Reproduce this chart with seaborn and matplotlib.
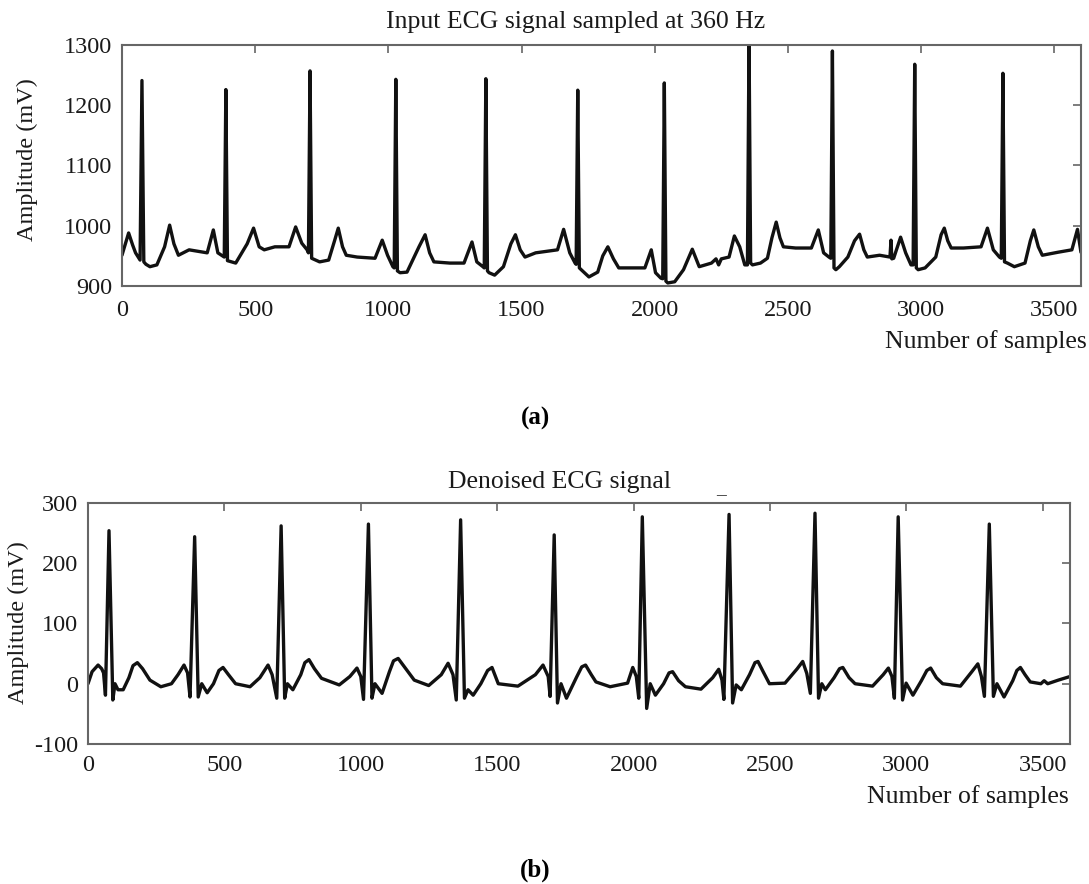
import numpy as np
import pandas as pd
import seaborn as sns
import matplotlib
matplotlib.use("Agg")
import matplotlib.pyplot as plt

# vertices (sample index, amplitude in mV)
raw_samples = [
    0, 25, 40, 51, 68, 75, 82, 90, 105, 131, 160, 179, 195, 212, 252, 320, 343, 360, 384, 390,
    396, 427, 470, 494, 515, 534, 574, 627, 652, 675, 695, 700, 706, 712, 742, 776, 798, 812, 828, 842,
    883, 950, 977, 997, 1017, 1022, 1028, 1034, 1044, 1070, 1115, 1138, 1155, 1171, 1231, 1284, 1314, 1332, 1355, 1360,
    1366, 1372, 1378, 1399, 1432, 1460, 1477, 1495, 1513, 1553, 1635, 1658, 1681, 1701, 1705, 1711, 1717, 1724, 1753, 1786,
    1805, 1824, 1845, 1865, 1911, 1963, 1987, 2003, 2023, 2030, 2036, 2042, 2049, 2075, 2108, 2141, 2167, 2213, 2230, 2240,
    2250, 2279, 2299, 2319, 2338, 2348, 2354, 2360, 2367, 2397, 2423, 2440, 2456, 2470, 2483, 2529, 2588, 2614, 2634, 2654,
    2661, 2667, 2673, 2680, 2693, 2725, 2750, 2769, 2785, 2798, 2844, 2883, 2887, 2890, 2897, 2923, 2942, 2962, 2970, 2976,
    2982, 2989, 3015, 3055, 3075, 3087, 3100, 3113, 3159, 3225, 3249, 3271, 3294, 3301, 3307, 3313, 3324, 3350, 3390, 3410,
    3423, 3440, 3455, 3514, 3566, 3587, 3600,
]
raw_amp = [
    951, 988, 968, 955, 943, 1241, 940, 936, 932, 935, 965, 1001, 970, 951, 960, 955, 993, 955, 948, 1226,
    942, 938, 970, 996, 965, 960, 965, 965, 998, 971, 960, 955, 1257, 946, 940, 943, 975, 996, 965, 951,
    948, 946, 976, 951, 932, 930, 1243, 925, 922, 923, 965, 985, 955, 940, 938, 938, 973, 940, 932, 930,
    1244, 925, 922, 918, 932, 970, 985, 960, 948, 955, 960, 994, 955, 938, 936, 1225, 930, 927, 915, 923,
    950, 965, 945, 930, 930, 930, 960, 922, 913, 912, 1237, 908, 905, 907, 927, 961, 932, 938, 945, 935,
    945, 948, 983, 965, 935, 935, 1310, 938, 935, 938, 946, 980, 1006, 980, 965, 963, 963, 993, 955, 948,
    946, 1290, 930, 927, 932, 948, 975, 986, 960, 948, 951, 948, 976, 945, 946, 981, 955, 935, 935, 1268,
    930, 927, 930, 948, 985, 996, 975, 963, 963, 965, 996, 960, 948, 946, 1253, 940, 938, 932, 938, 975,
    993, 965, 951, 956, 960, 994, 956,
]

# vertices
den_samples = [
    0, 15, 37, 50, 57, 64, 77, 91, 99, 110, 129, 150, 165, 181, 200, 227, 267, 306, 330, 352,
    365, 374, 391, 404, 417, 437, 460, 480, 495, 515, 541, 594, 630, 660, 675, 692, 708, 721, 731, 751,
    780, 795, 810, 830, 856, 921, 960, 986, 1000, 1010, 1028, 1041, 1052, 1078, 1105, 1120, 1137, 1160, 1196, 1249,
    1295, 1320, 1338, 1350, 1366, 1380, 1393, 1412, 1440, 1465, 1481, 1504, 1576, 1640, 1668, 1687, 1694, 1709, 1721, 1734,
    1754, 1790, 1810, 1824, 1845, 1862, 1914, 1978, 1997, 2010, 2019, 2032, 2048, 2061, 2080, 2110, 2130, 2143, 2165, 2190,
    2247, 2290, 2312, 2324, 2331, 2350, 2363, 2376, 2395, 2425, 2445, 2456, 2475, 2498, 2555, 2600, 2620, 2635, 2648, 2665,
    2678, 2690, 2703, 2735, 2755, 2767, 2790, 2812, 2876, 2915, 2934, 2947, 2956, 2970, 2986, 2999, 3024, 3055, 3075, 3089,
    3110, 3133, 3198, 3240, 3262, 3275, 3286, 3304, 3319, 3332, 3358, 3390, 3405, 3418, 3435, 3454, 3493, 3505, 3518, 3557,
    3600,
]
den_amp = [
    0, 20, 31, 25, 18, -19, 254, -27, 0, -10, -10, 10, 30, 35, 25, 6, -5, 0, 15, 31,
    18, -22, 244, -22, 0, -15, 0, 22, 27, 15, 0, -5, 10, 31, 15, -24, 262, -24, 0, -10,
    15, 35, 40, 25, 9, -2, 12, 26, 12, -26, 265, -24, 0, -16, 20, 38, 42, 28, 6, -3,
    15, 34, 15, -27, 272, -24, -10, -19, 0, 22, 27, 0, -4, 15, 31, 12, -21, 247, -32, 0,
    -24, 10, 28, 31, 15, 3, -5, 1, 27, 12, -24, 277, -41, 0, -19, 0, 18, 20, 5, -5,
    -9, 10, 24, 6, -26, 281, -32, -2, -10, 15, 35, 37, 20, 0, 1, 25, 37, 17, -16, 283,
    -24, 0, -10, 10, 25, 27, 10, 0, -4, 15, 26, 12, -24, 277, -27, 1, -19, 5, 22, 26,
    10, 0, -4, 20, 33, 12, -21, 265, -21, 0, -22, 5, 22, 27, 15, 3, 0, 5, 0, 6,
    12,
]

x_ticks = [0, 500, 1000, 1500, 2000, 2500, 3000, 3500]
raw_yticks = [900, 1000, 1100, 1200, 1300]
den_yticks = [-100, 0, 100, 200, 300]

sns.set_style("white")
plt.rcParams["font.family"] = ["Liberation Serif", "DejaVu Serif"]
plt.rcParams["axes.unicode_minus"] = False

raw_df = pd.DataFrame({"sample": raw_samples, "amp": raw_amp})
den_df = pd.DataFrame({"sample": den_samples, "amp": den_amp})

fig = plt.figure(figsize=(10.89, 8.84), dpi=100)
ax1 = fig.add_axes([0.1120, 0.6765, 0.8806, 0.2726])
ax2 = fig.add_axes([0.0808, 0.1584, 0.9018, 0.2726])

sns.lineplot(data=raw_df, x="sample", y="amp", ax=ax1, color="#111111",
             linewidth=2.4, sort=False, estimator=None, solid_joinstyle="round")
sns.lineplot(data=den_df, x="sample", y="amp", ax=ax2, color="#111111",
             linewidth=2.4, sort=False, estimator=None, solid_joinstyle="round")

for ax, yt, ylim, xpad in [(ax1, raw_yticks, (900, 1300), 10), (ax2, den_yticks, (-100, 300), 8)]:
    ax.set_xlim(0, 3600)
    ax.set_ylim(*ylim)
    ax.set_xticks(x_ticks)
    ax.set_yticks(yt)
    ax.set_xlabel("")
    ax.set_ylabel("")
    for s in ax.spines.values():
        s.set_visible(True)
        s.set_color("#666666")
        s.set_linewidth(1.5)
    ax.tick_params(direction="in", length=6, width=1.2, color="#666666",
                   top=True, right=True, labelsize=17.5, labelcolor="#1a1a1a")
    ax.tick_params(axis="x", pad=xpad)
    ax.tick_params(axis="y", pad=7)

# titles, axis labels and captions
fig.text(576 / 1089, 1 - 22 / 884, "Input ECG signal sampled at 360 Hz",
         ha="center", va="center", fontsize=18.5, color="#1a1a1a")
fig.text(27 / 1089, 1 - 160 / 884, "Amplitude (mV)", rotation=90,
         ha="center", va="center", fontsize=17.5, color="#1a1a1a")
fig.text(1087 / 1089, 1 - 342 / 884, "Number of samples",
         ha="right", va="center", fontsize=18.5, color="#1a1a1a")
fig.text(535 / 1089, 1 - 418 / 884, "(a)", ha="center", va="center",
         fontsize=18, fontweight="bold", color="black")

fig.text(560 / 1089, 1 - 482 / 884, "Denoised ECG signal",
         ha="center", va="center", fontsize=18.5, color="#1a1a1a")
fig.text(721 / 1089, 1 - 490 / 884, "_", ha="center", va="center",
         fontsize=14, color="#1a1a1a")
fig.text(18 / 1089, 1 - 623 / 884, "Amplitude (mV)", rotation=90,
         ha="center", va="center", fontsize=17.5, color="#1a1a1a")
fig.text(1069 / 1089, 1 - 797 / 884, "Number of samples",
         ha="right", va="center", fontsize=18.5, color="#1a1a1a")
fig.text(535 / 1089, 1 - 870 / 884, "(b)", ha="center", va="center",
         fontsize=18, fontweight="bold", color="black")

fig.savefig("out.png", dpi=100)
